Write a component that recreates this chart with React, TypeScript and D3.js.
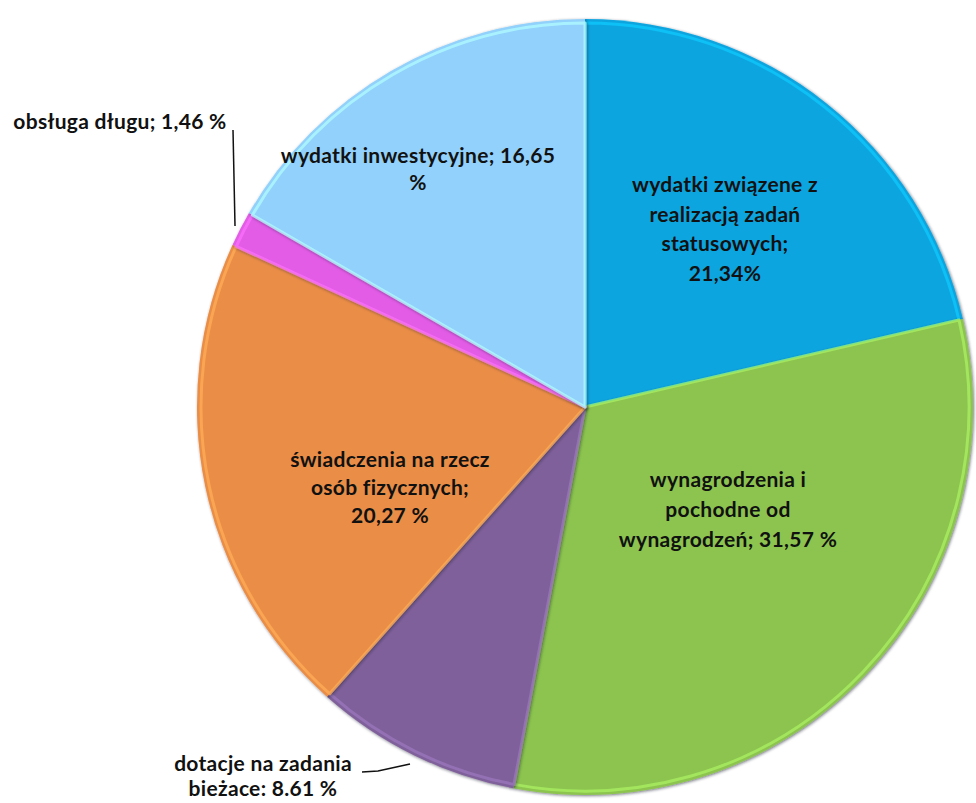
import React, { useEffect, useRef } from 'react';
import * as d3 from 'd3';

const width = 976;
const height = 803;

// slices, clockwise from 12 o'clock
const categories = [
  'wydatki związene z realizacją zadań statusowych',
  'wynagrodzenia i pochodne od wynagrodzeń',
  'dotacje na zadania bieżace',
  'świadczenia na rzecz osób fizycznych',
  'obsługa długu',
  'wydatki inwestycyjne',
];
const shares = [21.34, 31.57, 8.61, 20.27, 1.46, 16.65];
const colors = ['#0aa5e0', '#8cc450', '#7f619a', '#ea8d46', '#e25ce6', '#91d1fb'];

// label text as printed on the chart
const labelLines = [
  ['wydatki związene z', 'realizacją zadań', 'statusowych;', '21,34%'],
  ['wynagrodzenia i', 'pochodne  od', 'wynagrodzeń; 31,57 %'],
  ['dotacje  na zadania', 'bieżace: 8.61 %'],
  ['świadczenia na rzecz', 'osób fizycznych;', '20,27 %'],
  ['obsługa  długu; 1,46 %'],
  ['wydatki inwestycyjne; 16,65', '%'],
];

const cx = 585;
const cy = 407;
const radius = 388;

const App = () => {
  const ref = useRef<SVGSVGElement>(null);

  useEffect(() => {
    const svg = d3.select(ref.current);
    svg.selectAll('*').remove();

    const data = categories.map((c, i) => ({ name: c, value: shares[i], color: colors[i], lines: labelLines[i] }));

    const pie = d3.pie<any>()
      .sort(null)
      .value(d => d.value)
      .startAngle(0)
      .endAngle(2 * Math.PI);
    const arcs = pie(data);

    const arc = d3.arc<any>().innerRadius(0).outerRadius(radius);
    const innerArc = d3.arc<any>().innerRadius(0).outerRadius(radius - 4);

    const defs = svg.append('defs');
    const shadow = defs.append('filter').attr('id', 'edge').attr('x', '-10%').attr('y', '-10%').attr('width', '120%').attr('height', '120%');
    shadow.append('feGaussianBlur').attr('in', 'SourceAlpha').attr('stdDeviation', 1.5).attr('result', 'b');
    shadow.append('feOffset').attr('in', 'b').attr('dx', 1).attr('dy', 1).attr('result', 'o');
    shadow.append('feFlood').attr('flood-color', '#1a2030').attr('flood-opacity', 0.6);
    shadow.append('feComposite').attr('in2', 'o').attr('operator', 'in').attr('result', 's');
    const merge = shadow.append('feMerge');
    merge.append('feMergeNode').attr('in', 's');
    merge.append('feMergeNode').attr('in', 'SourceGraphic');

    const g = svg.append('g').attr('transform', `translate(${cx},${cy})`);

    const slices = g.selectAll('g.slice')
      .data(arcs)
      .enter()
      .append('g')
      .attr('class', 'slice')
      .attr('filter', 'url(#edge)');

    slices.append('path')
      .attr('d', arc)
      .attr('fill', d => d.data.color);

    // bevel highlight just inside the edges
    slices.append('path')
      .attr('d', innerArc)
      .attr('fill', 'none')
      .attr('stroke', d => d3.color(d.data.color)!.brighter(0.6).toString())
      .attr('stroke-width', 3)
      .attr('stroke-opacity', 0.7)
      .attr('stroke-linejoin', 'round');

    const font = 'Lato, "Noto Sans", sans-serif';

    // label anchors (text centre x, first baseline y, line gap)
    const labelPos: [number, number, number][] = [
      [725, 192, 29.5],
      [728, 487, 30],
      [263, 771, 25],
      [390, 467, 28],
      [120, 129, 0],
      [418, 163, 27],
    ];

    arcs.forEach((a, i) => {
      const [x, y, gap] = labelPos[i];
      const t = svg.append('text')
        .attr('x', x)
        .attr('y', y)
        .attr('text-anchor', 'middle')
        .style('font-family', font)
        .style('font-weight', 700)
        .style('font-size', '21px')
        .style('letter-spacing', '0.3px')
        .attr('fill', '#111');
      a.data.lines.forEach((l: string, j: number) => {
        t.append('tspan')
          .attr('x', x)
          .attr('y', y + j * gap)
          .text(l);
      });
    });

    // leader lines for the outside labels
    svg.append('path')
      .attr('d', 'M233,130 L235,226')
      .attr('stroke', '#111')
      .attr('stroke-width', 1.5)
      .attr('fill', 'none');
    svg.append('path')
      .attr('d', 'M362,772 L378,771 L410,764')
      .attr('stroke', '#111')
      .attr('stroke-width', 1.5)
      .attr('fill', 'none');
  }, []);

  return (
    <svg ref={ref} width={width} height={height}
      style={{ position: 'absolute', left: 0, top: 0, background: '#fff' }} />
  );
};

export default App;
